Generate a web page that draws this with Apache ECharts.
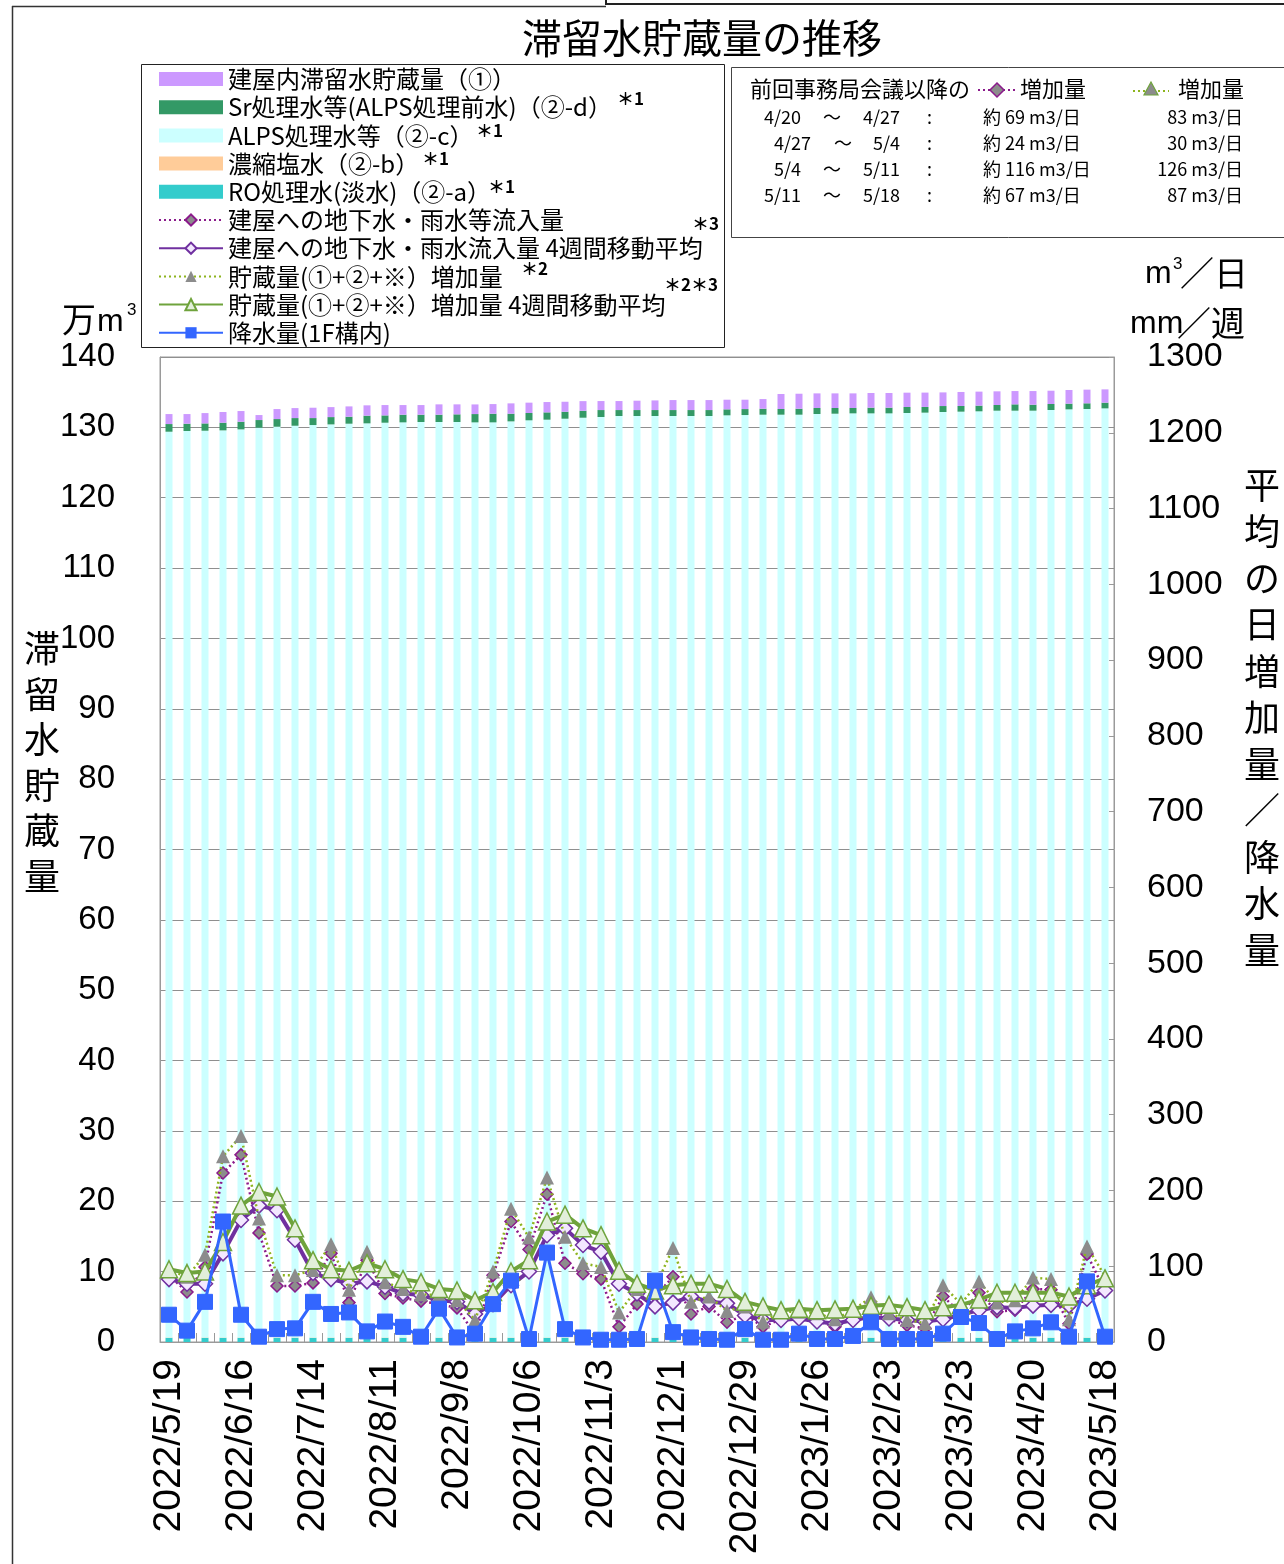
<!DOCTYPE html>
<html><head><meta charset="utf-8">
<script src="https://cdn.jsdelivr.net/npm/echarts@6/dist/echarts.min.js"></script>
<style>html,body{margin:0;padding:0;background:#fff}#c{width:1284px;height:1564px}</style>
</head><body><div id="c"></div><script>
// ---- categories (weekly, Thursday) ----
const categories = ['2022/5/19','2022/5/26','2022/6/2','2022/6/9','2022/6/16','2022/6/23','2022/6/30','2022/7/7','2022/7/14','2022/7/21','2022/7/28','2022/8/4','2022/8/11','2022/8/18','2022/8/25','2022/9/1','2022/9/8','2022/9/15','2022/9/22','2022/9/29','2022/10/6','2022/10/13','2022/10/20','2022/10/27','2022/11/3','2022/11/10','2022/11/17','2022/11/24','2022/12/1','2022/12/8','2022/12/15','2022/12/22','2022/12/29','2023/1/5','2023/1/12','2023/1/19','2023/1/26','2023/2/2','2023/2/9','2023/2/16','2023/2/23','2023/3/2','2023/3/9','2023/3/16','2023/3/23','2023/3/30','2023/4/6','2023/4/13','2023/4/20','2023/4/27','2023/5/4','2023/5/11','2023/5/18'];

// ---- stacked bars (万m3) ----
const roWater = [0.6,0.6,0.6,0.6,0.6,0.6,0.6,0.6,0.6,0.6,0.6,0.6,0.6,0.6,0.6,0.6,0.6,0.6,0.6,0.6,0.6,0.6,0.6,0.6,0.6,0.6,0.6,0.6,0.6,0.6,0.6,0.6,0.6,0.6,0.6,0.6,0.6,0.6,0.6,0.6,0.6,0.6,0.6,0.6,0.6,0.6,0.6,0.6,0.6,0.6,0.6,0.6,0.6];
const saltWater = [0.05,0.05,0.05,0.05,0.05,0.05,0.05,0.05,0.05,0.05,0.05,0.05,0.05,0.05,0.05,0.05,0.05,0.05,0.05,0.05,0.05,0.05,0.05,0.05,0.05,0.05,0.05,0.05,0.05,0.05,0.05,0.05,0.05,0.05,0.05,0.05,0.05,0.05,0.05,0.05,0.05,0.05,0.05,0.05,0.05,0.05,0.05,0.05,0.05,0.05,0.05,0.05,0.05];
const alpsWater = [128.73,128.83,128.87,128.92,129.06,129.30,129.44,129.58,129.68,129.77,129.87,129.92,130.01,130.06,130.11,130.11,130.11,130.06,130.06,130.20,130.35,130.44,130.58,130.72,130.82,130.96,130.96,130.96,130.96,130.96,130.96,131.06,131.10,131.15,131.15,131.15,131.25,131.29,131.34,131.34,131.34,131.39,131.44,131.53,131.58,131.63,131.72,131.72,131.72,131.82,131.91,131.96,132.05];
const srWater = [1.09,1.04,1.04,1.09,1.09,1.09,1.09,1.09,0.99,1.04,0.99,1.09,1.04,1.09,1.04,1.04,1.09,1.18,1.23,1.09,1.04,1.04,0.99,0.99,0.99,0.85,0.85,0.85,0.85,0.85,0.85,0.85,0.85,0.85,0.81,0.85,0.85,0.81,0.76,0.81,0.81,0.85,0.81,0.85,0.81,0.81,0.81,0.90,0.85,0.85,0.81,0.81,0.81];
const buildingWater = [1.42,1.37,1.47,1.52,1.52,0.71,1.42,1.42,1.47,1.42,1.47,1.47,1.47,1.37,1.37,1.47,1.42,1.37,1.37,1.47,1.47,1.47,1.42,1.37,1.28,1.28,1.33,1.37,1.42,1.42,1.42,1.37,1.33,1.37,2.13,2.13,2.08,2.08,2.08,2.08,2.08,2.04,2.04,1.94,1.99,1.99,1.94,1.89,1.94,1.89,1.94,1.94,1.89];

// ---- lines (m3/日, mm/週) ----
const inflow = [88,66,99,223,247,144,74,74,78,117,52,108,64,58,54,50,45,10,88,159,122,195,104,90,83,20,50,60,86,37,47,26,36,20,30,30,28,20,32,45,30,22,18,60,38,65,40,42,70,69,24,116,67];
const inflowAvg = [83,77,77,117,161,180,174,135,91,83,77,80,73,64,62,55,53,37,50,75,93,141,150,128,119,77,64,47,52,60,53,51,35,29,29,31,27,24,29,33,31,29,27,30,36,42,46,45,48,49,48,57,68];
const storageInc = [95,86,115,245,272,163,88,88,95,129,69,119,79,70,63,62,55,29,93,176,138,217,139,104,99,39,70,72,124,53,60,41,47,27,40,40,38,30,42,59,38,29,25,75,50,80,52,55,85,83,30,126,87];
const storageIncAvg = [96,91,93,132,180,198,192,150,108,96,94,104,96,83,79,70,68,55,66,93,108,159,168,150,141,94,77,68,75,77,77,70,53,47,42,44,42,43,44,48,49,46,42,46,49,56,65,65,65,65,60,75,84];
const rainfall = [36,15,53,159,36,7,17,18,53,37,39,14,27,20,7,44,6,11,50,81,4,118,17,6,3,3,4,81,13,6,4,3,17,3,3,11,4,4,8,26,4,4,4,11,33,25,4,14,18,26,7,80,7];

// ---- axis ticks ----
const leftTicks = {min: 0, max: 140, interval: 10};
const rightTicks = {min: 0, max: 1300, interval: 100};

// ---- table in the right box ----
const tableFrom = ['4/20','4/27','5/4','5/11'];
const tableTo = ['4/27','5/4','5/11','5/18'];
const tableInflow = ['約 69 m3/日','約 24 m3/日','約 116 m3/日','約 67 m3/日'];
const tableStorage = ['83 m3/日','30 m3/日','126 m3/日','87 m3/日'];

const names = ['建屋内滞留水貯蔵量（①）','Sr処理水等(ALPS処理前水)（②-d）','ALPS処理水等（②-c）','濃縮塩水（②-b）','RO処理水(淡水)（②-a）','建屋への地下水・雨水等流入量','建屋への地下水・雨水流入量 4週間移動平均','貯蔵量(①+②+※）増加量','貯蔵量(①+②+※）増加量 4週間移動平均','降水量(1F構内)'];

const JP = '"Noto Sans CJK JP", "Noto Sans", sans-serif';
const NUM = '"Liberation Sans", Arial, sans-serif';

const chart = echarts.init(document.getElementById('c'), null, {renderer: 'canvas'});

function barSeries(name, data, color) {
  return {name, type: 'bar', stack: 'st', yAxisIndex: 0, data, barWidth: 7,
    itemStyle: {color}, z: 2, silent: true};
}

const tableTexts = [];
const rowY = [120, 146, 172, 198];
const fromX = [764, 774, 774, 764];
const tildeX = [823, 834, 823, 823];
const toX = [863, 873, 863, 863];
for (let i = 0; i < 4; i++) {
  const st = {fontSize: 18, fontFamily: JP, fill: '#000'};
  const t = rowY[i] - 12;
  tableTexts.push({type: 'text', left: fromX[i], top: t, style: Object.assign({text: tableFrom[i]}, st)});
  tableTexts.push({type: 'text', left: tildeX[i], top: t, style: Object.assign({text: '〜'}, st)});
  tableTexts.push({type: 'text', left: toX[i], top: t, style: Object.assign({text: tableTo[i]}, st)});
  tableTexts.push({type: 'text', left: 927, top: t, style: Object.assign({text: ':'}, st)});
  tableTexts.push({type: 'text', left: 983, top: t, style: Object.assign({text: tableInflow[i]}, st)});
  tableTexts.push({type: 'text', right: 1284 - 1243, top: t, style: Object.assign({text: tableStorage[i]}, st)});
}

const vertLeft = '滞\n留\n水\n貯\n蔵\n量';
const vertRight = '平\n均\nの\n日\n増\n加\n量\n／\n降\n水\n量';
const star = {fontSize: 17, fontFamily: JP, fill: '#000', fontWeight: 'bold'};

const option = {
  backgroundColor: '#fff',
  animation: false,
  grid: {left: 160, right: 170, top: 357, bottom: 222, show: true, borderColor: '#9a9a9a', borderWidth: 1, containLabel: false},
  legend: {
    orient: 'vertical', left: 158, top: 65, padding: 0,
    itemWidth: 64, itemHeight: 14, itemGap: 0.2,
    textStyle: {fontSize: 24, fontFamily: JP, color: '#000', lineHeight: 28},
    data: [
      {name: names[0], icon: 'rect'},
      {name: names[1], icon: 'rect'},
      {name: names[2], icon: 'rect'},
      {name: names[3], icon: 'rect'},
      {name: names[4], icon: 'rect'},
      names[5], names[6], names[7], names[8], names[9]
    ],
    selectedMode: false
  },
  xAxis: {
    type: 'category', data: categories, boundaryGap: true,
    axisLine: {lineStyle: {color: '#9a9a9a', width: 1}},
    axisTick: {show: true, inside: true, length: 9, interval: 0, lineStyle: {color: '#9a9a9a'}},
    axisLabel: {interval: 3, rotate: 90, fontSize: 39, fontFamily: NUM, color: '#000', margin: 17},
    splitLine: {show: false}
  },
  yAxis: [
    {type: 'value', min: leftTicks.min, max: leftTicks.max, interval: leftTicks.interval, position: 'left',
     axisLine: {show: true, lineStyle: {color: '#9a9a9a'}}, axisTick: {show: false},
     axisLabel: {fontSize: 33, fontFamily: NUM, color: '#000', margin: 45},
     splitLine: {show: true, lineStyle: {color: '#8f8f8f', width: 1}}},
    {type: 'value', min: rightTicks.min, max: rightTicks.max, interval: rightTicks.interval, position: 'right',
     axisLine: {show: true, lineStyle: {color: '#9a9a9a'}},
     axisTick: {show: true, inside: true, length: 5, lineStyle: {color: '#9a9a9a'}},
     axisLabel: {fontSize: 34, fontFamily: NUM, color: '#000', margin: 33, formatter: v => String(v)},
     splitLine: {show: false}}
  ],
  series: [
    barSeries(names[4], roWater, '#33CCCC'),
    barSeries(names[3], saltWater, '#FFCC99'),
    barSeries(names[2], alpsWater, '#CCFFFF'),
    barSeries(names[1], srWater, '#339966'),
    barSeries(names[0], buildingWater, '#CC99FF'),
    {name: names[5], type: 'line', yAxisIndex: 1, data: inflow, z: 3, showAllSymbol: true,
     lineStyle: {color: '#8B1A8B', width: 2.5, type: [2, 3]},
     symbol: 'diamond', symbolSize: 12,
     itemStyle: {color: '#8c8c8c', borderColor: '#8B1A8B', borderWidth: 1.5}},
    {name: names[6], type: 'line', yAxisIndex: 1, data: inflowAvg, z: 4, showAllSymbol: true,
     lineStyle: {color: '#7030A0', width: 4},
     symbol: 'diamond', symbolSize: 15,
     itemStyle: {color: '#F3E8FF', borderColor: '#7030A0', borderWidth: 1.5}},
    {name: names[7], type: 'line', yAxisIndex: 1, data: storageInc, z: 5, showAllSymbol: true,
     lineStyle: {color: '#8DB41E', width: 2.5, type: [2, 3]},
     symbol: 'triangle', symbolSize: 14,
     itemStyle: {color: '#8c8c8c', borderColor: '#8c8c8c', borderWidth: 0}},
    {name: names[8], type: 'line', yAxisIndex: 1, data: storageIncAvg, z: 6, showAllSymbol: true,
     lineStyle: {color: '#6FA33C', width: 4},
     symbol: 'triangle', symbolSize: 17,
     itemStyle: {color: '#E2EFDA', borderColor: '#6FA33C', borderWidth: 1.5}},
    {name: names[9], type: 'line', yAxisIndex: 1, data: rainfall, z: 7, showAllSymbol: true,
     lineStyle: {color: '#3366FF', width: 3},
     symbol: 'rect', symbolSize: 15,
     itemStyle: {color: '#3366FF', borderColor: '#3366FF'}}
  ],
  graphic: [
    // outer frame lines
    {type: 'line', shape: {x1: 12.5, y1: 6, x2: 12.5, y2: 1564}, style: {stroke: '#333', lineWidth: 1.5}, silent: true},
    {type: 'line', shape: {x1: 12, y1: 6.5, x2: 606, y2: 6.5}, style: {stroke: '#333', lineWidth: 1.5}, silent: true},
    {type: 'polyline', shape: {points: [[606, 0], [606, 4], [1284, 4]]}, style: {stroke: '#222', lineWidth: 2, fill: null}, silent: true},
    // title
    {type: 'text', left: 522, top: 18, style: {text: '滞留水貯蔵量の推移', fontSize: 40, fontFamily: JP, fill: '#000'}, silent: true},
    // legend box
    {type: 'rect', shape: {x: 141.5, y: 64.5, width: 583, height: 283}, style: {fill: null, stroke: '#222', lineWidth: 1}, silent: true, z: 0},
    // footnote marks
    {type: 'text', left: 617, top: 90, style: Object.assign({text: '＊1'}, star)},
    {type: 'text', left: 476, top: 122, style: Object.assign({text: '＊1'}, star)},
    {type: 'text', left: 422, top: 150, style: Object.assign({text: '＊1'}, star)},
    {type: 'text', left: 488, top: 178, style: Object.assign({text: '＊1'}, star)},
    {type: 'text', left: 692, top: 215, style: Object.assign({text: '＊3'}, star)},
    {type: 'text', left: 521, top: 260, style: Object.assign({text: '＊2'}, star)},
    {type: 'text', left: 664, top: 276, style: Object.assign({text: '＊2＊3'}, star)},
    // right box
    {type: 'rect', shape: {x: 731.5, y: 67.5, width: 570, height: 170}, style: {fill: null, stroke: '#444', lineWidth: 1}, silent: true},
    {type: 'text', left: 750, top: 78, style: {text: '前回事務局会議以降の', fontSize: 22, fontFamily: JP, fill: '#000'}},
    {type: 'line', shape: {x1: 978, y1: 90, x2: 1016, y2: 90}, style: {stroke: '#8B1A8B', lineWidth: 2, lineDash: [2, 3]}},
    {type: 'polygon', shape: {points: [[997, 83], [1004, 90], [997, 97], [990, 90]]}, style: {fill: '#8c8c8c', stroke: '#8B1A8B', lineWidth: 1.5}},
    {type: 'text', left: 1020, top: 78, style: {text: '増加量', fontSize: 22, fontFamily: JP, fill: '#000'}},
    {type: 'line', shape: {x1: 1133, y1: 91, x2: 1169, y2: 91}, style: {stroke: '#8DB41E', lineWidth: 2, lineDash: [2, 3]}},
    {type: 'polygon', shape: {points: [[1151, 82], [1158, 95], [1144, 95]]}, style: {fill: '#8c8c8c', stroke: '#6FA33C', lineWidth: 1.2}},
    {type: 'text', left: 1178, top: 78, style: {text: '増加量', fontSize: 22, fontFamily: JP, fill: '#000'}},
    ...tableTexts,
    // axis names
    {type: 'text', left: 62, top: 302, style: {text: '万', fontSize: 34, fontFamily: JP, fill: '#000'}},
    {type: 'text', left: 97, top: 306, style: {text: 'm', fontSize: 32, fontFamily: NUM, fill: '#000'}},
    {type: 'text', left: 127, top: 302, style: {text: '3', fontSize: 17, fontFamily: NUM, fill: '#000'}},
    {type: 'text', left: 24, top: 626, style: {text: vertLeft, fontSize: 36, lineHeight: 45.5, fontFamily: JP, fill: '#000'}},
    {type: 'text', left: 1145, top: 258, style: {text: 'm', fontSize: 32, fontFamily: NUM, fill: '#000'}},
    {type: 'text', left: 1173, top: 256, style: {text: '3', fontSize: 17, fontFamily: NUM, fill: '#000'}},
    {type: 'text', left: 1180, top: 256, style: {text: '／日', fontSize: 34, fontFamily: JP, fill: '#000'}},
    {type: 'text', left: 1130, top: 308, style: {text: 'mm', fontSize: 32, fontFamily: NUM, fill: '#000'}},
    {type: 'text', left: 1177, top: 306, style: {text: '／週', fontSize: 34, fontFamily: JP, fill: '#000'}},
    {type: 'text', left: 1244, top: 462, style: {text: vertRight, fontSize: 36, lineHeight: 46.5, fontFamily: JP, fill: '#000'}}
  ]
};
chart.setOption(option);
</script></body></html>
